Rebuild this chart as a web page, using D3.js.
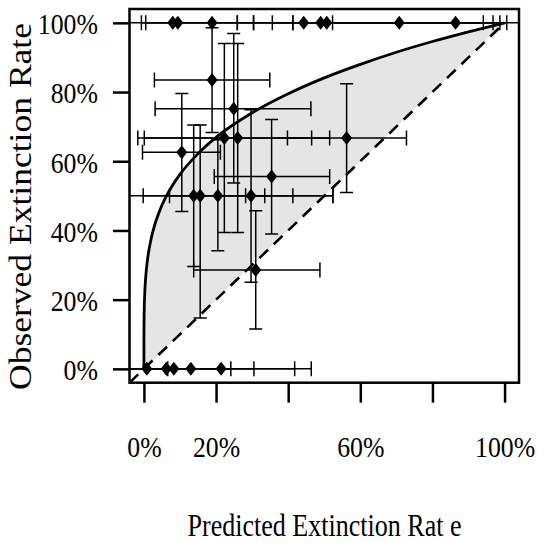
<!DOCTYPE html>
<html>
<head>
<meta charset="utf-8">
<script src="https://cdn.jsdelivr.net/npm/d3@7"></script>
<style>
  body { margin: 0; background: #fff; }
  text { font-family: "Liberation Serif", "Times New Roman", serif; fill: #000; }
</style>
</head>
<body>
<script>
// points on the 100% row (predicted value and its interval)
var topX   = [0.080, 0.094, 0.189, 0.443, 0.490, 0.507, 0.708, 0.864];
var topXlo = [-0.007, 0.005, -0.06, 0.356, 0.413, 0.304, 0.523, 0.259];
var topXhi = [0.259, 0.304, 0.413, 0.941, 0.968, 0.987, 1.006, 1.10];

// points on the 0% row
var botX   = [0.008, 0.062, 0.083, 0.130, 0.214];
var botXlo = [-0.06, -0.06, -0.06, -0.06, -0.06];
var botXhi = [0.066, 0.241, 0.305, 0.418, 0.464];

// points in between: predicted, observed and both intervals
var midX   = [0.189, 0.249, 0.223, 0.260, 0.562, 0.105, 0.354, 0.138, 0.156, 0.205, 0.297, 0.310];
var midY   = [0.835, 0.752, 0.667, 0.667, 0.667, 0.626, 0.556, 0.500, 0.500, 0.500, 0.500, 0.286];
var midXlo = [0.029, 0.031, -0.017, 0.001, 0.398, -0.004, 0.195, -0.06, -0.002, 0.071, 0.282, 0.138];
var midXhi = [0.349, 0.463, 0.465, 0.515, 0.728, 0.212, 0.515, 0.335, 0.413, 0.524, 0.524, 0.488];
var midYlo = [0.683, 0.537, 0.394, 0.394, 0.510, 0.455, 0.390, 0.296, 0.147, 0.341, 0.250, 0.115];
var midYhi = [0.986, 0.969, 0.940, 0.940, 0.824, 0.796, 0.721, 0.705, 0.705, 0.662, 0.749, 0.457];

// upper curve
var curveX = [0, 0.0001, 0.0005, 0.001, 0.003, 0.005, 0.01, 0.02, 0.03, 0.05, 0.075, 0.1, 0.15, 0.2, 0.3, 0.4, 0.5, 0.6, 0.7, 0.8, 0.9, 1.0];
var curveY = [0, 0.10, 0.150, 0.178, 0.234, 0.266, 0.316, 0.376, 0.416, 0.473, 0.523, 0.562, 0.622, 0.669, 0.740, 0.795, 0.841, 0.880, 0.915, 0.946, 0.974, 1.0];

var xTickVals = [0, 0.2, 0.4, 0.6, 0.8, 1.0];
var xTickLabels = ["0%", "20%", "", "60%", "", "100%"];
var yTickVals = [0, 0.2, 0.4, 0.6, 0.8, 1.0];
var yTickLabels = ["0%", "20%", "40%", "60%", "80%", "100%"];

var W = 537, H = 543;
var box = {left: 129.5, right: 519, top: 9, bottom: 382.7};
var sx = 0.86; // the type in the picture is narrow

var svg = d3.select("body").append("svg")
    .attr("width", W)
    .attr("height", H);

var x = d3.scaleLinear().domain([-0.04, 1.04]).range([box.left, box.right]);
var y = d3.scaleLinear().domain([-0.04, 1.04]).range([box.bottom, box.top]);

svg.append("defs").append("clipPath").attr("id", "plotclip")
  .append("rect")
    .attr("x", box.left).attr("y", box.top)
    .attr("width", box.right - box.left)
    .attr("height", box.bottom - box.top);

var plot = svg.append("g").attr("clip-path", "url(#plotclip)");

// shaded band between the curve and the diagonal
var curvePts = curveX.map(function(d, i){ return {x: d, y: curveY[i]}; });
var band = d3.area()
    .x(function(d){ return x(d.x); })
    .y0(function(d){ return y(d.x); })
    .y1(function(d){ return y(d.y); })
    .curve(d3.curveMonotoneX);
plot.append("path").attr("d", band(curvePts)).style("fill", "#e5e5e5").style("stroke", "none");

// dashed diagonal
var diag = d3.line().x(function(d){ return x(d); }).y(function(d){ return y(d); });
plot.append("path").attr("d", diag([-0.04, 1.0]))
    .style("fill", "none").style("stroke", "#000")
    .style("stroke-width", 2.6).style("stroke-dasharray", "12,8");

// error bars
var capH = 7.5, capV = 6.5;
var rows = [];
topX.forEach(function(d, i){ rows.push({x: d, y: 1, xlo: topXlo[i], xhi: topXhi[i], ylo: 1, yhi: 1}); });
botX.forEach(function(d, i){ rows.push({x: d, y: 0, xlo: botXlo[i], xhi: botXhi[i], ylo: 0, yhi: 0}); });
midX.forEach(function(d, i){ rows.push({x: d, y: midY[i], xlo: midXlo[i], xhi: midXhi[i], ylo: midYlo[i], yhi: midYhi[i]}); });

var bars = plot.append("g").attr("class", "bars")
    .style("stroke", "#000").style("stroke-width", 1.5).style("fill", "none");

rows.forEach(function(d){
  var p = "M" + x(d.xlo) + "," + y(d.y) + "H" + x(d.xhi);
  p += "M" + x(d.xlo) + "," + (y(d.y) - capH) + "V" + (y(d.y) + capH);
  p += "M" + x(d.xhi) + "," + (y(d.y) - capH) + "V" + (y(d.y) + capH);
  if (d.ylo !== d.yhi) {
    p += "M" + x(d.x) + "," + y(d.ylo) + "V" + y(d.yhi);
    p += "M" + (x(d.x) - capV) + "," + y(d.ylo) + "H" + (x(d.x) + capV);
    p += "M" + (x(d.x) - capV) + "," + y(d.yhi) + "H" + (x(d.x) + capV);
  }
  bars.append("path").attr("d", p);
});

// upper curve
var line = d3.line()
    .x(function(d){ return x(d.x); })
    .y(function(d){ return y(d.y); })
    .curve(d3.curveMonotoneX);
plot.append("path").attr("d", line(curvePts))
    .style("fill", "none").style("stroke", "#000").style("stroke-width", 2.8);

// diamonds
plot.selectAll(".pt").data(rows).enter().append("path")
    .attr("class", "pt")
    .attr("d", "M0,-7L5.5,0L0,7L-5.5,0Z")
    .attr("transform", function(d){ return "translate(" + x(d.x) + "," + y(d.y) + ")"; })
    .style("fill", "#000");

// frame
svg.append("rect")
    .attr("x", box.left).attr("y", box.top)
    .attr("width", box.right - box.left).attr("height", box.bottom - box.top)
    .style("fill", "none").style("stroke", "#000").style("stroke-width", 2.5);

// axes
var xAxis = d3.axisBottom(x).tickValues(xTickVals).tickSize(20).tickPadding(33)
    .tickFormat(function(d, i){ return xTickLabels[i]; });
var gx = svg.append("g").attr("transform", "translate(0," + box.bottom + ")").call(xAxis);
gx.select(".domain").remove();
gx.selectAll(".tick line").style("stroke", "#000").style("stroke-width", 2.5);
gx.selectAll(".tick text").style("font-size", "30px").style("font-family", null)
    .attr("transform", "scale(" + sx + ",1)");

var yAxis = d3.axisLeft(y).tickValues(yTickVals).tickSize(16.5).tickPadding(15)
    .tickFormat(function(d, i){ return yTickLabels[i]; });
var gy = svg.append("g").attr("transform", "translate(" + box.left + ",0)").call(yAxis);
gy.select(".domain").remove();
gy.selectAll(".tick line").style("stroke", "#000").style("stroke-width", 2.5);
gy.selectAll(".tick text").style("font-size", "30px").style("font-family", null)
    .attr("x", -31.5 / sx).attr("dy", "0.36em")
    .attr("transform", "scale(" + sx + ",1)");

svg.selectAll(".tick text").style("fill", "#000");

// axis titles
svg.append("text")
    .attr("x", 324.5).attr("y", 535.5)
    .attr("text-anchor", "middle")
    .attr("textLength", 274).attr("lengthAdjust", "spacingAndGlyphs")
    .style("font-size", "31px")
    .text("Predicted Extinction Rat e");

svg.append("text")
    .attr("transform", "translate(31,206.5) rotate(-90)")
    .attr("text-anchor", "middle")
    .attr("textLength", 367).attr("lengthAdjust", "spacingAndGlyphs")
    .style("font-size", "31px")
    .text("Observed Extinction Rate");
</script>
</body>
</html>
